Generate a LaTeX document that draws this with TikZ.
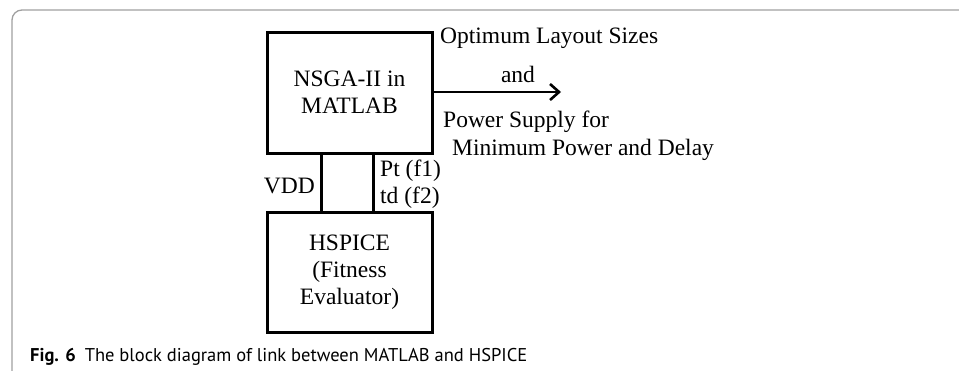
\documentclass[tikz,border=0pt]{standalone}
\usepackage{fontspec}
\setmainfont{Liberation Serif}
\newfontfamily\capfont{PT Sans}
\usetikzlibrary{arrows.meta,calc,positioning}

\tikzset{
	block/.style={draw,line width=3pt,minimum width=165pt,align=center,font=\fontsize{23.5}{27}\selectfont},
	lbl/.style={inner sep=0pt,font=\fontsize{23.5}{27}\selectfont},
	link/.style={line width=2.8pt}
}

\begin{document}
\begin{tikzpicture}[x=1pt,y=-1pt,line join=miter]
		\useasboundingbox (0,0) rectangle (959,370);
		% frame round the figure
		\draw[gray!75,line width=1.3pt,rounded corners=10pt] (12,372) -- (12,10) -- (961,10);
		\node[block,minimum height=121pt] (nsga) at (349.5,92.5) {NSGA-II in\\MATLAB};
		\node[block,minimum height=120pt] (hspice) at (349.5,272) {HSPICE\\(Fitness\\Evaluator)};
		\coordinate (out) at (561,92);
		\draw[link,-{Straight Barb[length=9pt,width=16pt,line width=2.6pt]}] (nsga.east |- out) -- (out);
		\draw[link] ($(nsga.south west)!0.333!(nsga.south east)$) -- ($(hspice.north west)!0.333!(hspice.north east)$);
		\draw[link] ($(nsga.south west)!0.642!(nsga.south east)$) -- ($(hspice.north west)!0.642!(hspice.north east)$);
		% labels
		\node[lbl,anchor=base west] (opt) at (440,43) {Optimum Layout Sizes};
		\node[lbl,anchor=base] (and) at (518,82) {and};
		\node[lbl,anchor=base west] (pws) at (443,127) {Power Supply for};
		\node[lbl,anchor=base west] (minpd) at (452,155) {Minimum Power and Delay};
		\node[lbl,anchor=base east] (vdd) at (315,193) {VDD};
		\node[lbl,anchor=base west] (pt) at (380,176) {Pt (f1)};
		\node[lbl,anchor=base west] (td) at (380,203) {td (f2)};
		% caption
		\node[anchor=base west,inner sep=0pt,font=\capfont\fontsize{18.5}{22}\selectfont] (cap) at (30,361) {\textbf{Fig. 6}\hspace{9pt}The block diagram of link between MATLAB and HSPICE};
		\end{tikzpicture}
\end{document}
